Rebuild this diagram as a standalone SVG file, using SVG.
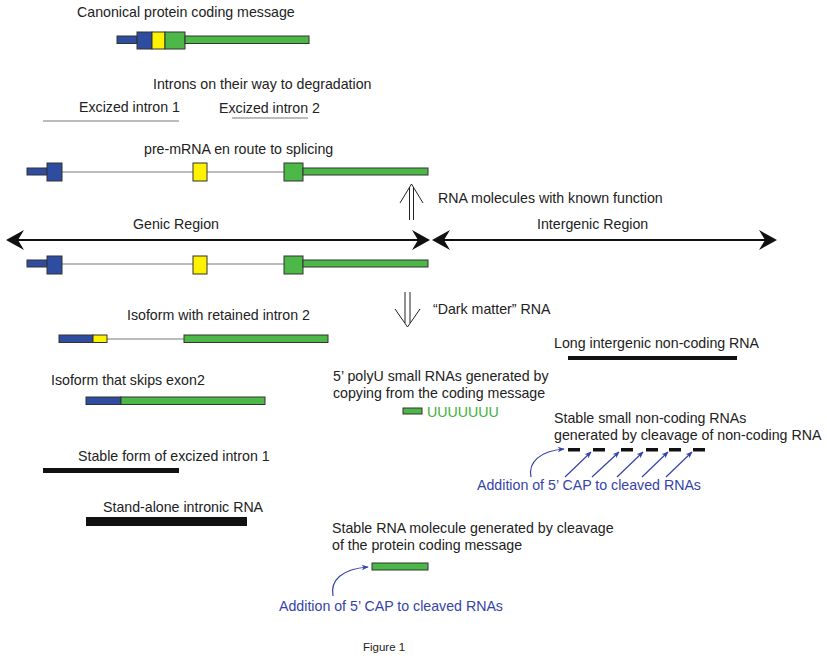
<svg xmlns="http://www.w3.org/2000/svg" width="827" height="660" viewBox="0 0 827 660">
<defs>
<style>
text{font-family:"Liberation Sans",Arial,sans-serif;font-size:14.2px;fill:#222}
.blue{fill:#2f4da0;stroke:#333;stroke-width:1}
.yel{fill:#fff200;stroke:#333;stroke-width:1}
.grn{fill:#4cb848;stroke:#333;stroke-width:1}
.intr{stroke:#7a7a7a;stroke-width:1.2;fill:none}
.blk{fill:#111}
.cap{fill:#3543a8}
.capl{stroke:#3543a8;stroke-width:1.2;fill:none}
.thin{stroke:#222;stroke-width:1;fill:none}
</style>
<marker id="ah" viewBox="0 0 10 10" refX="9" refY="5" markerWidth="7" markerHeight="7" orient="auto" markerUnits="userSpaceOnUse">
<path d="M0,1 L10,5 L0,9 L3,5 Z" fill="#3543a8"/>
</marker>
</defs>

<g id="canonical">
<text x="77" y="17">Canonical protein coding message</text>
<rect class="blue" x="117" y="36" width="20" height="7.5"/>
<rect class="blue" x="137" y="32" width="15" height="17"/>
<rect class="yel" x="152" y="32" width="13" height="17"/>
<rect class="grn" x="165" y="32" width="20" height="17"/>
<rect class="grn" x="185" y="36" width="124" height="7.5"/>
</g>

<g id="introns">
<text x="153" y="89">Introns on their way to degradation</text>
<text x="79" y="112">Excized intron 1</text>
<line class="intr" x1="43" y1="121" x2="179" y2="121"/>
<text x="219" y="113">Excized intron 2</text>
<line class="intr" x1="232" y1="118" x2="308" y2="118"/>
</g>

<g id="pre-mrna">
<text x="144" y="154">pre-mRNA en route to splicing</text>
<line class="intr" x1="60" y1="172" x2="286" y2="172"/>
<rect class="blue" x="27" y="168" width="20" height="7"/>
<rect class="blue" x="47" y="163" width="15" height="18"/>
<rect class="yel" x="193" y="163" width="14" height="18"/>
<rect class="grn" x="284" y="163" width="19" height="18"/>
<rect class="grn" x="303" y="168" width="125" height="7"/>
</g>

<g id="gene">
<line class="intr" x1="60" y1="264" x2="286" y2="264"/>
<rect class="blue" x="27" y="260" width="20" height="7"/>
<rect class="blue" x="47" y="256" width="15" height="18"/>
<rect class="yel" x="193" y="256" width="14" height="18"/>
<rect class="grn" x="284" y="256" width="19" height="18"/>
<rect class="grn" x="303" y="260" width="125" height="7"/>
</g>

<g id="genic-region">
<text x="133" y="229">Genic Region</text>
<line x1="12" y1="240" x2="425" y2="240" stroke="#111" stroke-width="1.8"/>
<path class="blk" d="M6,240 L24,230 L18,240 L24,250 Z"/>
<path class="blk" d="M430,240 L412,230 L418,240 L412,250 Z"/>
</g>

<g id="intergenic-region">
<text x="537" y="229">Intergenic Region</text>
<line x1="437" y1="240" x2="772" y2="240" stroke="#111" stroke-width="1.8"/>
<path class="blk" d="M432,240 L450,230 L444,240 L450,250 Z"/>
<path class="blk" d="M777,240 L759,230 L765,240 L759,250 Z"/>
</g>

<g id="known-function">
<line class="thin" x1="409.5" y1="187" x2="409.5" y2="220"/>
<line class="thin" x1="413.5" y1="187" x2="413.5" y2="220"/>
<polyline class="thin" points="400,203 411.5,184 423,203"/>
<text x="438" y="203">RNA molecules with known function</text>
</g>

<g id="dark-matter">
<line class="thin" x1="405" y1="292" x2="405" y2="323"/>
<line class="thin" x1="410" y1="292" x2="410" y2="323"/>
<polyline class="thin" points="395,309 407.5,327 420,309"/>
<text x="433" y="314">“Dark matter” RNA</text>
</g>

<g id="retained-intron">
<text x="127" y="320">Isoform with retained intron 2</text>
<line class="intr" x1="107" y1="339" x2="184" y2="339"/>
<rect class="blue" x="59" y="335" width="34" height="7.5"/>
<rect class="yel" x="93" y="335" width="14" height="7.5"/>
<rect class="grn" x="184" y="335" width="144" height="7.5"/>
</g>

<g id="skips-exon2">
<text x="51" y="385">Isoform that skips exon2</text>
<rect class="blue" x="86" y="397" width="35" height="7.5"/>
<rect class="grn" x="121" y="397" width="144" height="7.5"/>
</g>

<g id="stable-intron">
<text x="78" y="461">Stable form of excized intron 1</text>
<rect class="blk" x="43" y="468" width="136" height="5"/>
</g>

<g id="standalone-intronic">
<text x="103" y="512">Stand-alone intronic RNA</text>
<rect class="blk" x="86" y="517" width="161" height="9"/>
</g>

<g id="lincrna">
<text x="554" y="348">Long intergenic non-coding RNA</text>
<rect class="blk" x="568" y="356" width="169" height="4"/>
</g>

<g id="polyu">
<text x="333" y="381">5’ polyU small RNAs generated by</text>
<text x="333" y="398">copying from the coding message</text>
<rect class="grn" x="403" y="408" width="19" height="6"/>
<text x="427" y="417" style="fill:#3db03a">UUUUUUU</text>
</g>

<g id="small-ncrna">
<text x="554" y="423">Stable small non-coding RNAs</text>
<text x="554" y="440">generated by cleavage of non-coding RNA</text>
<rect class="blk" x="568" y="448" width="12" height="3.5"/>
<rect class="blk" x="593" y="448" width="12" height="3.5"/>
<rect class="blk" x="621" y="448" width="12" height="3.5"/>
<rect class="blk" x="646" y="448" width="12" height="3.5"/>
<rect class="blk" x="669" y="448" width="12" height="3.5"/>
<rect class="blk" x="693" y="448" width="12" height="3.5"/>
<text x="477" y="490" class="cap">Addition of 5’ CAP to cleaved RNAs</text>
</g>

<g id="cleaved-coding">
<text x="332" y="533">Stable RNA molecule generated by cleavage</text>
<text x="332" y="550">of the protein coding message</text>
<rect class="grn" x="372" y="563" width="56" height="7"/>
<text x="279" y="611" class="cap">Addition of 5’ CAP to cleaved RNAs</text>
</g>

<g id="connectors">
<path class="capl" d="M531,477 C528,462 540,451 564,449" marker-end="url(#ah)"/>
<line class="capl" x1="565" y1="477" x2="591" y2="452" marker-end="url(#ah)"/>
<line class="capl" x1="592" y1="477" x2="619" y2="452" marker-end="url(#ah)"/>
<line class="capl" x1="617" y1="477" x2="643" y2="452" marker-end="url(#ah)"/>
<line class="capl" x1="642" y1="477" x2="668" y2="452" marker-end="url(#ah)"/>
<line class="capl" x1="666" y1="477" x2="692" y2="452" marker-end="url(#ah)"/>
<path class="capl" d="M333,596 C330,580 342,569 368,567" marker-end="url(#ah)"/>
</g>

<text x="363" y="651" style="font-size:11.5px">Figure 1</text>
</svg>
